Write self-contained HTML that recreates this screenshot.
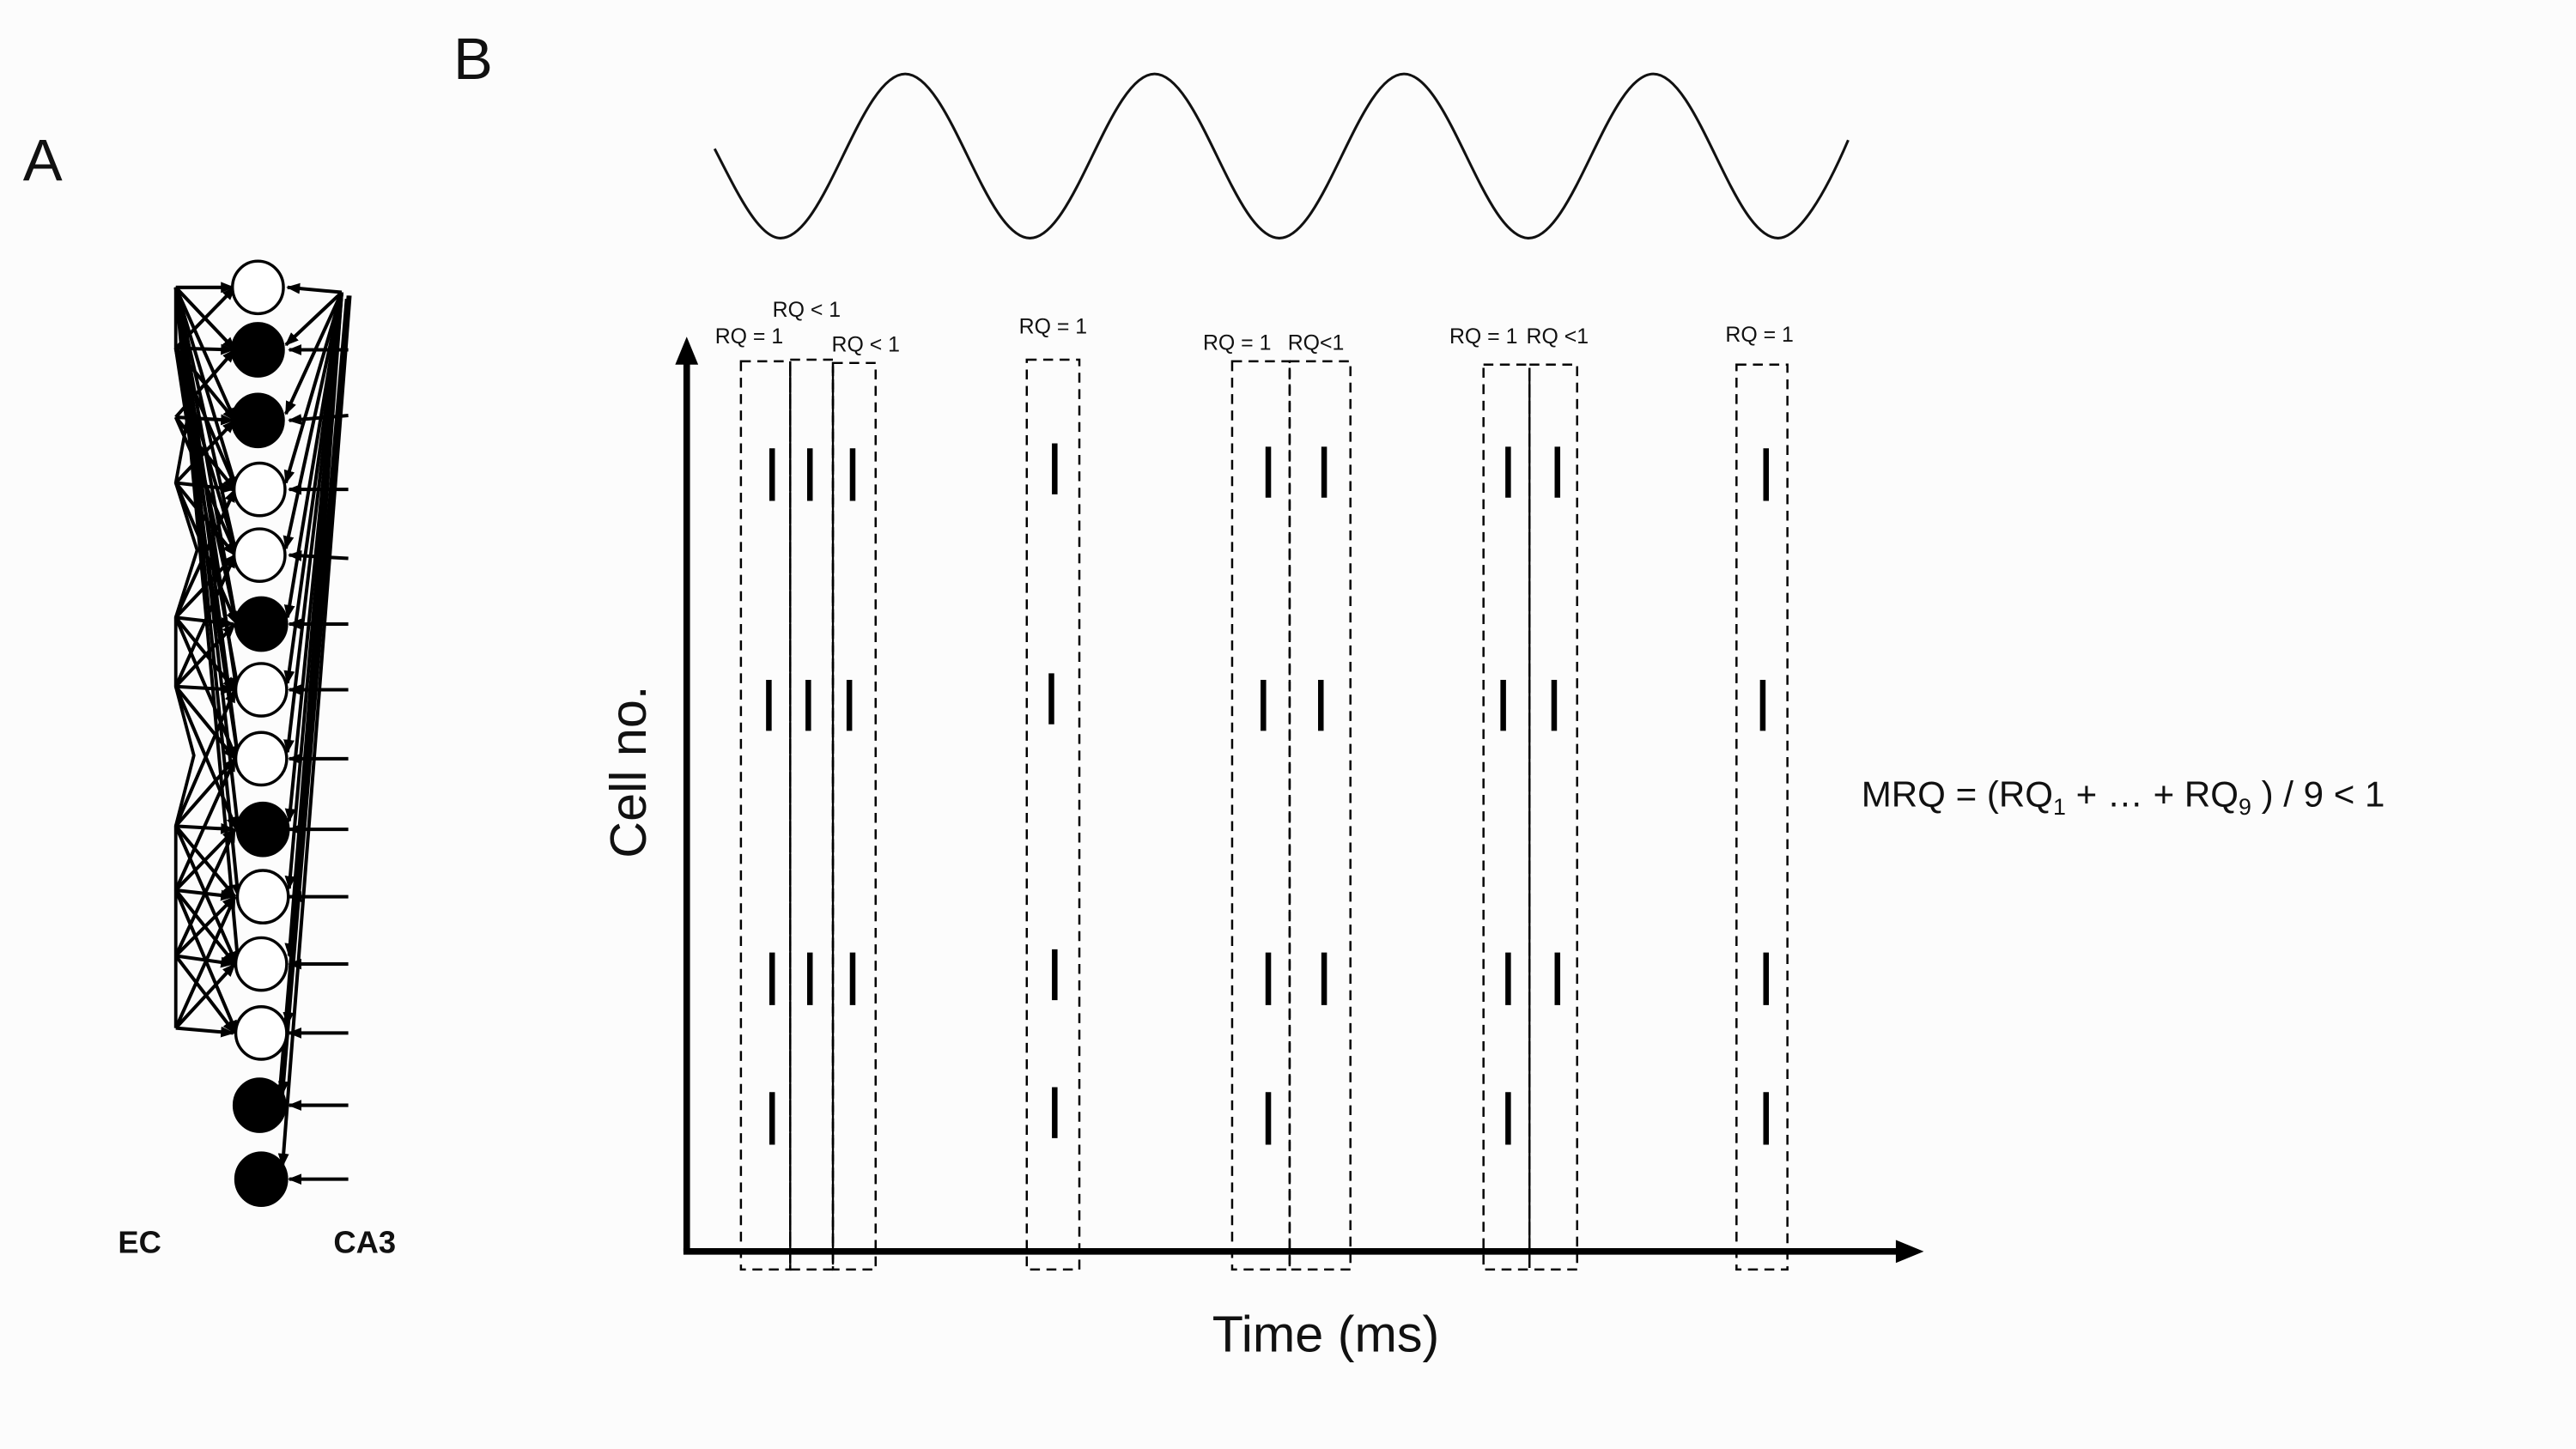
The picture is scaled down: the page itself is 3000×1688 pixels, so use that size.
<!DOCTYPE html>
<html><head><meta charset="utf-8"><style>
html,body{margin:0;padding:0;background:#fcfcfc;}
svg{display:block;}
text{font-family:"Liberation Sans",sans-serif;fill:#111;}
</style></head><body>
<svg width="3000" height="1688" viewBox="0 0 1568 882.3" preserveAspectRatio="none" xmlns="http://www.w3.org/2000/svg">
<defs>
<marker id="ah" viewBox="0 0 10 10" refX="9" refY="5" markerWidth="4" markerHeight="4" orient="auto"><path d="M0,1 L10,5 L0,9 z" fill="#000"/></marker>
</defs>
<rect width="1568" height="882.3" fill="#fcfcfc"/>
<text x="14" y="110" font-size="36">A</text>
<text x="276" y="48" font-size="36">B</text>

<!-- Panel A left connections -->
<g stroke="#000" stroke-width="2.1" fill="none" marker-end="url(#ah)">
<line x1="107" y1="175" x2="142" y2="175"/><line x1="107" y1="175" x2="143" y2="213"/><line x1="107" y1="175" x2="143" y2="256"/><line x1="107" y1="175" x2="144" y2="298"/><line x1="107" y1="175" x2="144" y2="338"/><line x1="107" y1="175" x2="144" y2="380"/><line x1="107" y1="175" x2="144" y2="420"/><line x1="107" y1="175" x2="145" y2="462"/><line x1="107" y1="175" x2="145" y2="505"/><line x1="107" y1="175" x2="145" y2="546"/><line x1="107" y1="175" x2="145" y2="587"/>
<line x1="107" y1="212" x2="143" y2="175"/><line x1="107" y1="212" x2="142" y2="213"/><line x1="107" y1="212" x2="143" y2="256"/><line x1="107" y1="212" x2="144" y2="298"/><line x1="107" y1="212" x2="144" y2="338"/><line x1="107" y1="212" x2="144" y2="380"/><line x1="107" y1="212" x2="145" y2="420"/><line x1="107" y1="212" x2="145" y2="462"/>
<line x1="107" y1="254" x2="143" y2="213"/><line x1="107" y1="254" x2="142" y2="256"/><line x1="107" y1="254" x2="143" y2="298"/><line x1="107" y1="254" x2="144" y2="338"/>
<line x1="107" y1="294" x2="143" y2="256"/><line x1="107" y1="294" x2="142" y2="298"/><line x1="107" y1="294" x2="143" y2="338"/><line x1="107" y1="294" x2="144" y2="380"/>
<line x1="107" y1="376" x2="143" y2="298"/><line x1="107" y1="376" x2="143" y2="338"/><line x1="107" y1="376" x2="142" y2="380"/><line x1="107" y1="376" x2="143" y2="420"/><line x1="107" y1="376" x2="144" y2="462"/>
<line x1="107" y1="418" x2="143" y2="338"/><line x1="107" y1="418" x2="143" y2="380"/><line x1="107" y1="418" x2="142" y2="420"/><line x1="107" y1="418" x2="143" y2="462"/><line x1="107" y1="418" x2="144" y2="505"/>
<line x1="107" y1="503" x2="143" y2="420"/><line x1="107" y1="503" x2="143" y2="462"/><line x1="107" y1="503" x2="142" y2="505"/><line x1="107" y1="503" x2="143" y2="546"/><line x1="107" y1="503" x2="144" y2="587"/>
<line x1="107" y1="542" x2="143" y2="462"/><line x1="107" y1="542" x2="143" y2="505"/><line x1="107" y1="542" x2="142" y2="546"/><line x1="107" y1="542" x2="143" y2="587"/><line x1="107" y1="542" x2="144" y2="629"/>
<line x1="107" y1="582" x2="143" y2="505"/><line x1="107" y1="582" x2="143" y2="546"/><line x1="107" y1="582" x2="142" y2="587"/><line x1="107" y1="582" x2="143" y2="629"/>
<line x1="107" y1="626" x2="143" y2="546"/><line x1="107" y1="626" x2="143" y2="587"/><line x1="107" y1="626" x2="142" y2="629"/>
</g>
<polyline points="107,175 107,212 115,250 107,294 120,335 107,376 107,418 118,460 107,503 107,542 107,582 107,626" stroke="#000" stroke-width="2" fill="none"/>

<!-- Panel A right connections -->
<g stroke="#000" stroke-width="2.1" fill="none" marker-end="url(#ah)">
<line x1="208" y1="178" x2="175" y2="175"/><line x1="208" y1="178" x2="174" y2="210"/><line x1="208" y1="178" x2="174" y2="252"/><line x1="208" y1="178" x2="174" y2="294"/><line x1="208" y1="178" x2="174" y2="334"/><line x1="208" y1="178" x2="175" y2="376"/><line x1="208" y1="178" x2="175" y2="416"/><line x1="208" y1="178" x2="175" y2="458"/><line x1="208" y1="178" x2="176" y2="500"/><line x1="208" y1="178" x2="176" y2="541"/><line x1="208" y1="178" x2="176" y2="582"/><line x1="208" y1="178" x2="175" y2="624"/>
<line x1="212" y1="180" x2="172" y2="666"/><line x1="213" y1="180" x2="172" y2="710"/><line x1="211" y1="182" x2="170" y2="668"/>
<line x1="212" y1="213" x2="176" y2="213"/><line x1="212" y1="253" x2="176" y2="256"/><line x1="212" y1="298" x2="176" y2="298"/><line x1="212" y1="340" x2="176" y2="338"/><line x1="212" y1="380" x2="176" y2="380"/><line x1="212" y1="420" x2="176" y2="420"/><line x1="212" y1="462" x2="176" y2="462"/><line x1="212" y1="505" x2="176" y2="505"/><line x1="212" y1="546" x2="176" y2="546"/><line x1="212" y1="587" x2="176" y2="587"/><line x1="212" y1="629" x2="176" y2="629"/><line x1="212" y1="673" x2="176" y2="673"/><line x1="212" y1="718" x2="176" y2="718"/>
</g>

<!-- Neurons -->
<g stroke="#000" stroke-width="1.8">
<ellipse cx="157" cy="175" rx="15.5" ry="16" fill="#fff"/>
<ellipse cx="157" cy="213" rx="15.5" ry="16" fill="#000"/>
<ellipse cx="157" cy="256" rx="15.5" ry="16" fill="#000"/>
<ellipse cx="158" cy="298" rx="15.5" ry="16" fill="#fff"/>
<ellipse cx="158" cy="338" rx="15.5" ry="16" fill="#fff"/>
<ellipse cx="159" cy="380" rx="15.5" ry="16" fill="#000"/>
<ellipse cx="159" cy="420" rx="15.5" ry="16" fill="#fff"/>
<ellipse cx="159" cy="462" rx="15.5" ry="16" fill="#fff"/>
<ellipse cx="160" cy="505" rx="15.5" ry="16" fill="#000"/>
<ellipse cx="160" cy="546" rx="15.5" ry="16" fill="#fff"/>
<ellipse cx="159" cy="587" rx="15.5" ry="16" fill="#fff"/>
<ellipse cx="159" cy="629" rx="15.5" ry="16" fill="#fff"/>
<ellipse cx="158" cy="673" rx="15.5" ry="16" fill="#000"/>
<ellipse cx="159" cy="718" rx="15.5" ry="16" fill="#000"/>
</g>
<text x="85" y="763" font-size="19" font-weight="bold" text-anchor="middle">EC</text>
<text x="222" y="763" font-size="19" font-weight="bold" text-anchor="middle">CA3</text>

<!-- Sine -->
<path d="M435,90.6 C449,118 462,145 475.1,145 C502.4,145 523.7,45 551,45 S599.6,145 626.9,145 S675.5,45 702.8,45 S751.4,145 778.7,145 S827.3,45 854.6,45 S903.2,145 930.5,145 S979.1,45 1006.4,45 S1055,145 1082.3,145 C1095,145 1111,118 1125,85.3" stroke="#111" stroke-width="1.6" fill="none"/>

<!-- Axes -->
<line x1="418" y1="762" x2="418" y2="218" stroke="#000" stroke-width="4"/>
<path d="M418,205 L411,222 L425,222 z" fill="#000"/>
<line x1="416" y1="762" x2="1158" y2="762" stroke="#000" stroke-width="4"/>
<path d="M1171,762 L1154,755 L1154,769 z" fill="#000"/>

<!-- Dashed boxes -->
<g stroke="#000" stroke-width="1.3" fill="none" stroke-dasharray="6,4">
<rect x="451" y="220" width="30" height="553"/>
<rect x="481" y="219" width="26" height="554"/>
<rect x="507" y="221" width="26" height="552"/>
<rect x="625" y="219" width="32" height="554"/>
<rect x="750" y="220" width="35" height="553"/>
<rect x="785" y="220" width="37" height="553"/>
<rect x="903" y="222" width="28" height="551"/>
<rect x="931" y="222" width="29" height="551"/>
<rect x="1057" y="222" width="31" height="551"/>
</g>
<line x1="481" y1="225" x2="481" y2="770" stroke="#000" stroke-width="1.2"/>
<line x1="507" y1="225" x2="507" y2="770" stroke="#000" stroke-width="1.2"/>
<line x1="931" y1="225" x2="931" y2="770" stroke="#000" stroke-width="1.2"/>

<!-- Spikes -->
<g stroke="#000" stroke-width="3.4">
<line x1="470" y1="273" x2="470" y2="305"/><line x1="493" y1="273" x2="493" y2="305"/><line x1="519" y1="273" x2="519" y2="305"/>
<line x1="642" y1="270" x2="642" y2="301"/>
<line x1="772" y1="272" x2="772" y2="303"/><line x1="806" y1="272" x2="806" y2="303"/>
<line x1="918" y1="272" x2="918" y2="303"/><line x1="948" y1="272" x2="948" y2="303"/>
<line x1="1075" y1="273" x2="1075" y2="305"/>

<line x1="468" y1="414" x2="468" y2="445"/><line x1="492" y1="414" x2="492" y2="445"/><line x1="517" y1="414" x2="517" y2="445"/>
<line x1="640" y1="410" x2="640" y2="441"/>
<line x1="769" y1="414" x2="769" y2="445"/><line x1="804" y1="414" x2="804" y2="445"/>
<line x1="915" y1="414" x2="915" y2="445"/><line x1="946" y1="414" x2="946" y2="445"/>
<line x1="1073" y1="414" x2="1073" y2="445"/>

<line x1="470" y1="580" x2="470" y2="612"/><line x1="493" y1="580" x2="493" y2="612"/><line x1="519" y1="580" x2="519" y2="612"/>
<line x1="642" y1="578" x2="642" y2="609"/>
<line x1="772" y1="580" x2="772" y2="612"/><line x1="806" y1="580" x2="806" y2="612"/>
<line x1="918" y1="580" x2="918" y2="612"/><line x1="948" y1="580" x2="948" y2="612"/>
<line x1="1075" y1="580" x2="1075" y2="612"/>

<line x1="470" y1="665" x2="470" y2="697"/>
<line x1="642" y1="662" x2="642" y2="693"/>
<line x1="772" y1="665" x2="772" y2="697"/>
<line x1="918" y1="665" x2="918" y2="697"/>
<line x1="1075" y1="665" x2="1075" y2="697"/>
</g>

<!-- RQ labels -->
<g font-size="13" text-anchor="middle">
<text x="456" y="209">RQ = 1</text>
<text x="491" y="193">RQ &lt; 1</text>
<text x="527" y="214">RQ &lt; 1</text>
<text x="641" y="203">RQ = 1</text>
<text x="753" y="213">RQ = 1</text>
<text x="801" y="213">RQ&lt;1</text>
<text x="903" y="209">RQ = 1</text>
<text x="948" y="209">RQ &lt;1</text>
<text x="1071" y="208">RQ = 1</text>
</g>

<text x="0" y="0" font-size="31" text-anchor="middle" transform="translate(393,470) rotate(-90)">Cell no.</text>
<text x="807" y="823" font-size="31" text-anchor="middle">Time (ms)</text>
<text x="1133" y="491" font-size="22">MRQ = (RQ<tspan font-size="14" dy="5">1</tspan><tspan dy="-5"> + … + RQ</tspan><tspan font-size="14" dy="5">9</tspan><tspan dy="-5"> ) / 9 &lt; 1</tspan></text>
</svg>
</body></html>
